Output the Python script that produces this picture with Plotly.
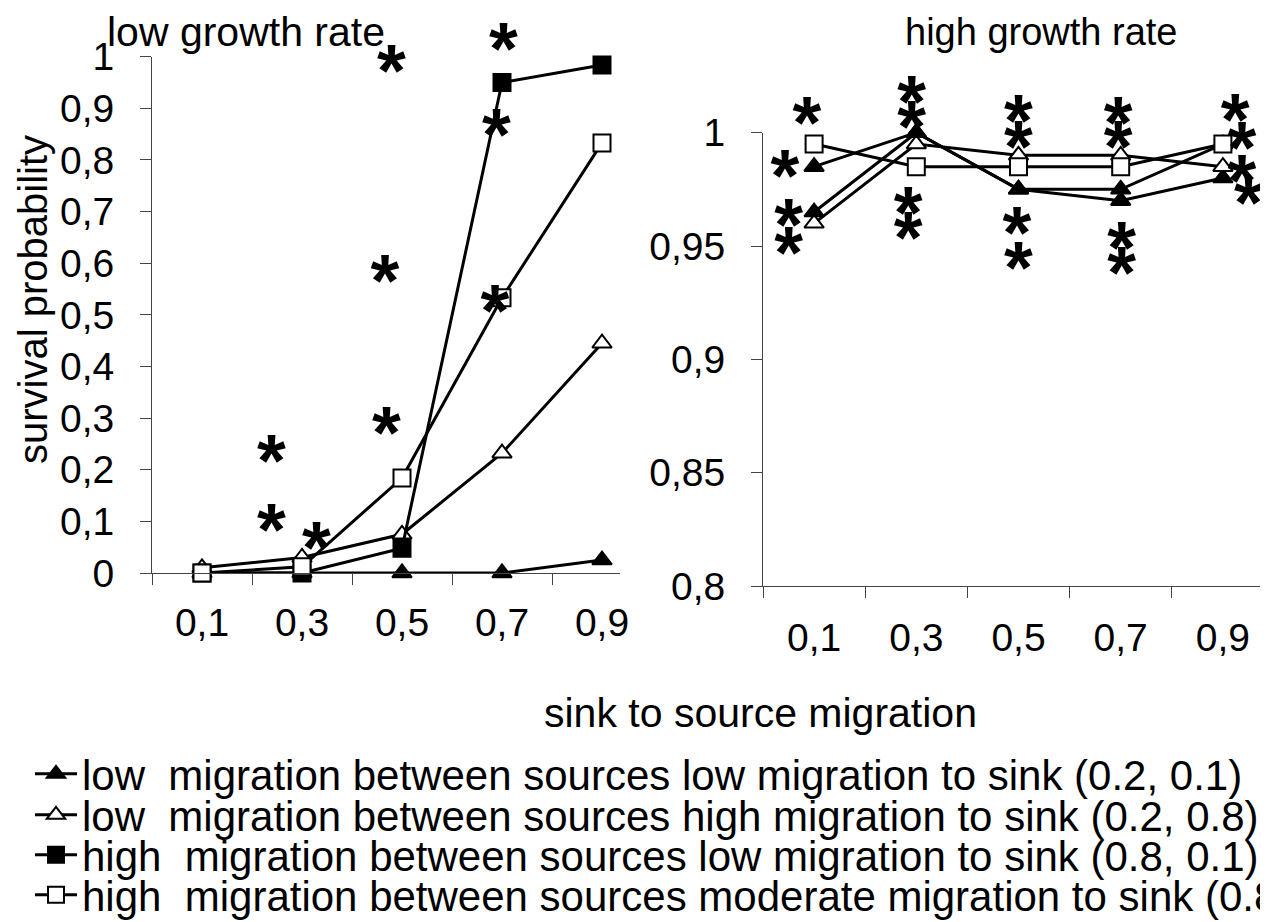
import plotly.graph_objects as go

# the page adds an 8px body margin, so the figure is 8px smaller than the window
PAGE_OFF = 8
W, H = 1268 - PAGE_OFF, 922 - PAGE_OFF
FONT = "Liberation Sans, Arial, sans-serif"

# sink to source migration (categories) and tick labels
migration = [0.1, 0.3, 0.5, 0.7, 0.9]
x_ticktext = ["0,1", "0,3", "0,5", "0,7", "0,9"]
x_minor = [0, 0.2, 0.4, 0.6, 0.8]

low_y_ticks = [0, 0.1, 0.2, 0.3, 0.4, 0.5, 0.6, 0.7, 0.8, 0.9, 1]
low_y_text = ["0", "0,1", "0,2", "0,3", "0,4", "0,5", "0,6", "0,7", "0,8", "0,9", "1"]
high_y_ticks = [0.8, 0.85, 0.9, 0.95, 1]
high_y_text = ["0,8", "0,85", "0,9", "0,95", "1"]

names = [
    "low\u00a0 migration between sources low migration to sink (0.2, 0.1)",
    "low\u00a0 migration between sources high migration to sink (0.2, 0.8)",
    "high\u00a0 migration between sources low migration to sink (0.8, 0.1)",
    "high\u00a0 migration between sources moderate migration to sink (0.8, 0.5)",
]

# low growth rate panel
low_ll = [0, 0, 0, 0, 0.025]
low_lh = [0.01, 0.03, 0.075, 0.232, 0.445]
low_hl = [0, 0, 0.048, 0.95, 0.984]
low_hm = [0, 0.012, 0.184, 0.533, 0.833]

# high growth rate panel
high_ll = [0.985, 1.0, 0.975, 0.97, 0.98]
high_lh = [0.96, 0.995, 0.99, 0.99, 0.985]
high_hl = [0.965, 1.0, 0.975, 0.975, 0.995]
high_hm = [0.995, 0.985, 0.985, 0.985, 0.995]

# significance asterisks
low_star_x = [0.239, 0.239, 0.329, 0.469, 0.479, 0.466, 0.703, 0.689, 0.686]
low_star_y = [0.235, 0.103, 0.067, 0.29, 0.991, 0.584, 1.033, 0.868, 0.526]
high_star_x = [0.086, 0.043, 0.050, 0.050, 0.291, 0.291, 0.284, 0.284,
               0.500, 0.500, 0.497, 0.500, 0.695, 0.695, 0.702, 0.702,
               0.924, 0.937, 0.937, 0.950]
high_star_y = [1.0086, 0.985, 0.9637, 0.9512, 1.018, 1.007, 0.969, 0.958,
               1.0093, 0.9982, 0.960, 0.9446, 1.0086, 0.998, 0.9535, 0.9425,
               1.010, 0.9975, 0.9828, 0.9732]


def fx(px):
    return (px - PAGE_OFF) / W


def fy(py):
    return 1 - (py - PAGE_OFF) / H


# panel geometry (window pixels)
L_X0, L_X1, L_Y0, L_Y1 = 152, 620, 573, 56.7
R_X0, R_X1, R_Y0, R_Y1 = 763, 1268, 586, 132.7
low_xrange = [0, (L_X1 - L_X0) / 500]
high_xrange = [0, (R_X1 - R_X0) / 511]
low_yrange = [0, 1]
high_yrange = [0.8, 1.0]

STAR_SIZE = 74


def star_anchor(ys, y0, y1, rng):
    # "*" glyph is drawn well above its baseline; place the text anchor so the
    # glyph centre lands on the value, keeping the anchor inside the axis range
    ppu = (y0 - y1) / (rng[1] - rng[0])
    pos, ya = [], []
    for v in ys:
        top = v - 0.72 * STAR_SIZE / ppu
        if top >= rng[0]:
            pos.append("top center")
            ya.append(top)
        else:
            pos.append("bottom center")
            ya.append(v + 0.28 * STAR_SIZE / ppu)
    return ya, pos


styles = [
    dict(symbol="triangle-up", fill="black"),
    dict(symbol="triangle-up", fill="white"),
    dict(symbol="square", fill="black"),
    dict(symbol="square", fill="white"),
]

fig = go.Figure()

low_series = [low_ll, low_lh, low_hl, low_hm]
high_series = [high_ll, high_lh, high_hl, high_hm]
legends = ["legend", "legend2", "legend3", "legend4"]

for i, (vals, st) in enumerate(zip(low_series, styles)):
    fig.add_trace(go.Scatter(
        x=migration, y=vals, mode="lines+markers", name=names[i],
        line=dict(color="black", width=3),
        marker=dict(symbol=st["symbol"], size=17, color=st["fill"],
                    line=dict(color="black", width=2)),
        cliponaxis=False, xaxis="x", yaxis="y",
        legend=legends[i], showlegend=True,
    ))

high_symbols = ["triangle-up", "triangle-up", "triangle-up", "square"]
for i, (vals, st) in enumerate(zip(high_series, styles)):
    fig.add_trace(go.Scatter(
        x=migration, y=vals, mode="lines+markers", name=names[i],
        line=dict(color="black", width=3),
        marker=dict(symbol=high_symbols[i], size=17, color=st["fill"],
                    line=dict(color="black", width=2)),
        cliponaxis=False, xaxis="x2", yaxis="y2", showlegend=False,
    ))

ly, lpos = star_anchor(low_star_y, L_Y0, L_Y1, low_yrange)
hy, hpos = star_anchor(high_star_y, R_Y0, R_Y1, high_yrange)
for sx, sy, spos, xa, ya in [(low_star_x, ly, lpos, "x", "y"),
                             (high_star_x, hy, hpos, "x2", "y2")]:
    fig.add_trace(go.Scatter(
        x=sx, y=sy, mode="text", text=["*"] * len(sx), textposition=spos,
        textfont=dict(family=FONT, size=STAR_SIZE, color="black", weight="bold"),
        cliponaxis=False, xaxis=xa, yaxis=ya, showlegend=False, hoverinfo="skip",
    ))

axis_common = dict(
    showgrid=False, zeroline=False, showline=True, linecolor="#444", linewidth=1,
    tickfont=dict(family=FONT, size=39, color="black"), automargin=False,
)

fig.update_layout(
    width=W, height=H,
    margin=dict(l=0, r=0, t=0, b=0, autoexpand=False),
    paper_bgcolor="white", plot_bgcolor="white",
    font=dict(family=FONT, color="black"),
    xaxis=dict(domain=[fx(L_X0), fx(L_X1)], range=low_xrange,
               tickvals=migration, ticktext=x_ticktext, ticks="",
               ticklabelstandoff=15,
               minor=dict(tickvals=x_minor, ticks="outside", ticklen=11,
                          tickcolor="#444"),
               anchor="y", **axis_common),
    yaxis=dict(domain=[fy(L_Y0), fy(L_Y1)], range=low_yrange,
               tickvals=low_y_ticks, ticktext=low_y_text, ticks="outside",
               ticklen=11, tickcolor="#444", ticklabelstandoff=18,
               anchor="x", **axis_common),
    xaxis2=dict(domain=[fx(R_X0), fx(R_X1)], range=high_xrange,
                tickvals=migration, ticktext=x_ticktext, ticks="",
                ticklabelstandoff=17,
                minor=dict(tickvals=x_minor, ticks="outside", ticklen=11,
                           tickcolor="#444"),
                anchor="y2", **axis_common),
    yaxis2=dict(domain=[fy(R_Y0), fy(R_Y1)], range=high_yrange,
                tickvals=high_y_ticks, ticktext=high_y_text, ticks="outside",
                ticklen=11, tickcolor="#444", ticklabelstandoff=18,
                anchor="x2", **axis_common),
)

legend_rows = [774, 815, 855, 895]
for key, yc in zip(legends, legend_rows):
    fig.update_layout({key: dict(
        x=fx(30), y=fy(yc), xanchor="left", yanchor="middle",
        bgcolor="rgba(0,0,0,0)", borderwidth=0, itemwidth=42,
        font=dict(family=FONT, size=42, color="black"),
    )})

titles = [
    ("low growth rate", 246, 32, 41, 0),
    ("high growth rate", 1041, 32, 38, 0),
    ("sink to source migration", 760, 713, 41, 0),
    ("survival probability", 33, 300, 40, -90),
]
for txt, tx, ty, size, angle in titles:
    fig.add_annotation(text=txt, x=fx(tx), y=fy(ty), xref="paper", yref="paper",
                       xanchor="center", yanchor="middle", showarrow=False,
                       textangle=angle, font=dict(family=FONT, size=size))

fig.write_html("out.html")
